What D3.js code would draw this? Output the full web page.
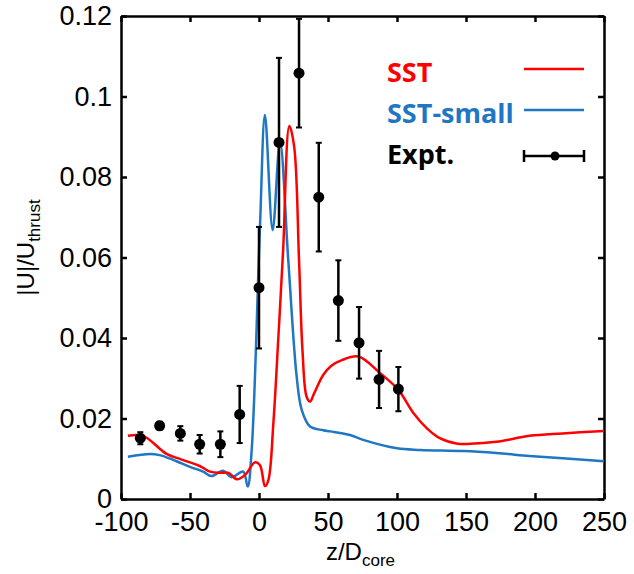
<!DOCTYPE html>
<html>
<head>
<meta charset="utf-8">
<script src="https://cdn.jsdelivr.net/npm/d3@7"></script>
<style>
  body { margin: 0; background: #fff; }
  text { font-family: "Liberation Sans", Arial, sans-serif; }
</style>
</head>
<body>
<div id="chart"></div>
<script>
// SST curve (z/D, |U|/U)
var sstZ = [-95, -84, -67, -57, -43, -35.5, -28, -22, -16, -10, -3, 0.7, 4.3, 6.8, 10.4, 14, 17.5, 22, 25.5, 29, 31.5, 34.5, 37, 40, 46.5, 52, 60, 72, 88, 101, 112, 121.5, 131, 143, 153, 172, 196, 220, 250];
var sstU = [0.0157, 0.0157, 0.0112, 0.0099, 0.0082, 0.0068, 0.0065, 0.0065, 0.0049, 0.006, 0.0091, 0.0084, 0.0032, 0.0047, 0.0188, 0.040, 0.062, 0.0927, 0.0875, 0.0594, 0.037, 0.0254, 0.0242, 0.0263, 0.0308, 0.0330, 0.0345, 0.0354, 0.0312, 0.0271, 0.0213, 0.0176, 0.0151, 0.0138, 0.0137, 0.0142, 0.0157, 0.0163, 0.0169];

// SST-small curve
var smallZ = [-95, -79, -72, -62, -50, -40.5, -34.5, -26, -20, -11.5, -8.2, -5.3, 0.7, 4.3, 9.9, 15.2, 21.2, 27.3, 31, 37, 46.5, 51.5, 66, 75.5, 100, 117, 148, 172, 196, 220, 250];
var smallU = [0.0105, 0.0112, 0.0109, 0.0097, 0.008, 0.0068, 0.0057, 0.007, 0.0054, 0.0068, 0.0031, 0.0122, 0.0677, 0.0954, 0.0668, 0.0888, 0.0594, 0.0304, 0.0221, 0.018, 0.0171, 0.0168, 0.0159, 0.0147, 0.0126, 0.0122, 0.0119, 0.0114, 0.0107, 0.0101, 0.0094];

// experiment with error
var exptZ = [-86, -72, -57, -43, -28, -14, 0, 14.5, 29, 43.3, 57.5, 72.5, 87, 101];
var exptU = [0.0151, 0.0182, 0.0163, 0.0136, 0.0136, 0.021, 0.0525, 0.0886, 0.1058, 0.075, 0.0493, 0.0388, 0.0297, 0.0273];
var exptErr = [0.0015, 0.001, 0.0018, 0.0023, 0.0032, 0.0071, 0.0151, 0.021, 0.0135, 0.0135, 0.01, 0.0089, 0.0071, 0.0055];

var xTicks = [-100, -50, 0, 50, 100, 150, 200, 250];
var yTicks = [0, 0.02, 0.04, 0.06, 0.08, 0.1, 0.12];

var margin = {top: 16, right: 30, bottom: 75, left: 121};
var width = 604 - margin.left;
var height = 499 - margin.top;

var svg = d3.select("#chart").append("svg").attr("width", 634).attr("height", 574)
    .append("g").attr("transform", "translate(" + margin.left + "," + margin.top + ")");

var x = d3.scaleLinear().domain([-100, 250]).range([0, width]);
var y = d3.scaleLinear().domain([0, 0.12]).range([height, 0]);

// ticks on all four sides, pointing inward
function fmtY(d) { return d === 0 ? "0" : String(+d.toFixed(2)); }
var fs = "27px";

var bottomAxis = svg.append("g").attr("transform", "translate(0," + height + ")")
    .call(d3.axisBottom(x).tickValues(xTicks).tickFormat(function (d) { return String(d); })
        .tickSizeInner(-6).tickSizeOuter(0).tickPadding(14));
var leftAxis = svg.append("g")
    .call(d3.axisLeft(y).tickValues(yTicks).tickFormat(fmtY).tickSizeInner(-6).tickSizeOuter(0).tickPadding(9));
var topAxis = svg.append("g")
    .call(d3.axisTop(x).tickValues(xTicks).tickSizeInner(-6).tickSizeOuter(0).tickFormat(""));
var rightAxis = svg.append("g").attr("transform", "translate(" + width + ",0)")
    .call(d3.axisRight(y).tickValues(yTicks).tickSizeInner(-6).tickSizeOuter(0).tickFormat(""));

[bottomAxis, leftAxis, topAxis, rightAxis].forEach(function (a) {
    a.selectAll("path").attr("stroke", "#000").attr("stroke-width", 2.5);
    a.selectAll("line").attr("stroke", "#000").attr("stroke-width", 2.5);
    a.selectAll("text").style("font-size", fs).style("fill", "#000")
        .style("font-family", "'Liberation Sans', Arial, sans-serif");
});
bottomAxis.selectAll("text").attr("dy", "0.68em");
leftAxis.selectAll("text").attr("dy", "0.33em");

var clip = svg.append("clipPath").attr("id", "clip").append("rect")
    .attr("width", width).attr("height", height);

var line = d3.line().curve(d3.curveCatmullRom.alpha(0.5))
    .x(function (d) { return x(d[0]); }).y(function (d) { return y(d[1]); });

var plot = svg.append("g").attr("clip-path", "url(#clip)");

plot.append("path").datum(d3.zip(smallZ, smallU)).attr("d", line)
    .attr("fill", "none").attr("stroke", "#1f77c4").attr("stroke-width", 2.5);
plot.append("path").datum(d3.zip(sstZ, sstU)).attr("d", line)
    .attr("fill", "none").attr("stroke", "#ff0000").attr("stroke-width", 2.5);

// error bars
var expt = exptZ.map(function (z, i) { return {z: z, u: exptU[i], e: exptErr[i]}; });
var eb = plot.selectAll(".eb").data(expt).enter().append("g").attr("class", "eb");
eb.append("line").attr("x1", function (d) { return x(d.z); }).attr("x2", function (d) { return x(d.z); })
    .attr("y1", function (d) { return y(d.u - d.e); }).attr("y2", function (d) { return y(d.u + d.e); })
    .attr("stroke", "#000").attr("stroke-width", 2.5);
[-1, 1].forEach(function (s) {
    eb.append("line").attr("x1", function (d) { return x(d.z) - 3; }).attr("x2", function (d) { return x(d.z) + 3; })
        .attr("y1", function (d) { return y(d.u + s * d.e); }).attr("y2", function (d) { return y(d.u + s * d.e); })
        .attr("stroke", "#000").attr("stroke-width", 2);
});
eb.append("circle").attr("cx", function (d) { return x(d.z); }).attr("cy", function (d) { return y(d.u); })
    .attr("r", 5.5).attr("fill", "#000");

// axis titles
var yt = svg.append("text").attr("transform", "translate(" + (-87) + "," + (height / 2 - 10) + ") rotate(-90)")
    .attr("text-anchor", "middle").style("font-size", "24px");
yt.append("tspan").text("|U|/U");
yt.append("tspan").attr("dy", 6).style("font-size", "17px").text("thrust");

var xt = svg.append("text").attr("x", width / 2 - 2).attr("y", height + 61)
    .attr("text-anchor", "middle").style("font-size", "24px");
xt.append("tspan").text("z/D");
xt.append("tspan").attr("dy", 6).style("font-size", "17px").text("core");

// legend
var legend = [
    {name: "SST", color: "#ff0000", type: "line"},
    {name: "SST-small", color: "#1f77c4", type: "line"},
    {name: "Expt.", color: "#000", type: "err"}
];
var lg = svg.selectAll(".legend").data(legend).enter().append("g").attr("class", "legend")
    .attr("transform", function (d, i) { return "translate(0," + (i * 41) + ")"; });
lg.append("text").attr("x", 387 - margin.left).attr("y", 82 - margin.top)
    .style("font-family", "'Open Sans', Lato, sans-serif").style("font-weight", "bold")
    .style("font-size", "27px").style("fill", function (d) { return d.color; })
    .text(function (d) { return d.name; });
lg.filter(function (d) { return d.type === "line"; }).append("line")
    .attr("x1", 524 - margin.left).attr("x2", 584 - margin.left)
    .attr("y1", 69 - margin.top).attr("y2", 69 - margin.top)
    .attr("stroke", function (d) { return d.color; }).attr("stroke-width", 2.5);
var le = lg.filter(function (d) { return d.type === "err"; });
le.append("line").attr("x1", 524 - margin.left).attr("x2", 584 - margin.left)
    .attr("y1", 74 - margin.top).attr("y2", 74 - margin.top).attr("stroke", "#000").attr("stroke-width", 2.5);
[524, 584].forEach(function (xx) {
    le.append("line").attr("x1", xx - margin.left).attr("x2", xx - margin.left)
        .attr("y1", 68 - margin.top).attr("y2", 80 - margin.top).attr("stroke", "#000").attr("stroke-width", 2.5);
});
le.append("circle").attr("cx", 555 - margin.left).attr("cy", 74 - margin.top).attr("r", 4.5).attr("fill", "#000");
</script>
</body>
</html>
